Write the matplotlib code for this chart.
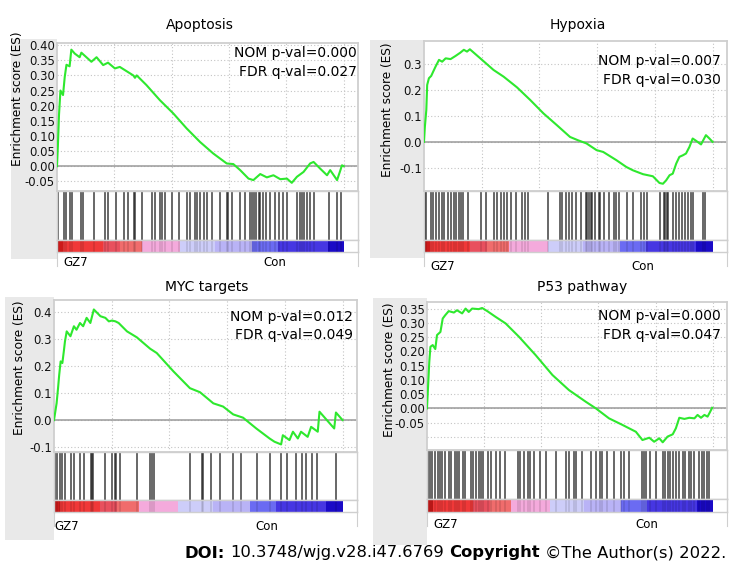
import matplotlib
matplotlib.use("Agg")
import matplotlib.pyplot as plt
from matplotlib.patches import Rectangle

W, H = 735, 562

titles = ["Apoptosis", "Hypoxia", "MYC targets", "P53 pathway"]
nom_p = ["0.000", "0.007", "0.012", "0.000"]
fdr_q = ["0.027", "0.030", "0.049", "0.047"]
left_label = "GZ7"
right_label = "Con"

# running enrichment score, x = position in the ranked gene list (%)
apop_x = [0, 0.3, 0.7, 1.2, 2.1, 2.7, 3.3, 4.4, 5.0, 6.2, 7.9, 8.5, 12.0, 13.8, 16.1, 17.8,
          20.2, 21.9, 26.6, 27.2, 27.8, 31.2, 35.9, 40.6, 45.2, 49.9, 54.5, 59.2, 61.5, 63.9,
          66.8, 68.5, 70.9, 73.2, 75.5, 77.9, 80.2, 81.9, 83.7, 86.0, 88.3, 89.5, 91.8, 94.2,
          95.3, 97.7, 98.8, 99.4, 100]
apop_es = [0, 0.065, 0.17, 0.25, 0.235, 0.295, 0.335, 0.33, 0.385, 0.372, 0.36, 0.375, 0.345,
           0.36, 0.334, 0.342, 0.323, 0.328, 0.30, 0.292, 0.30, 0.268, 0.218, 0.174, 0.125,
           0.08, 0.042, 0.009, 0.007, -0.013, -0.041, -0.046, -0.026, -0.037, -0.03, -0.043,
           -0.041, -0.055, -0.035, -0.019, 0.009, 0.014, -0.008, -0.03, -0.013, -0.046,
           -0.015, 0.003, 0.0]

hyp_x = [0, 0.3, 0.8, 1.1, 1.7, 2.5, 3.2, 4.0, 5.2, 6.3, 7.5, 9.2, 10.9, 12.6, 13.8, 14.9,
         15.9, 19.5, 24.1, 27.6, 32.2, 36.8, 41.4, 46.0, 50.6, 53.4, 56.3, 59.8, 62.1, 66.7,
         70.1, 72.4, 75.9, 79.3, 81.6, 82.8, 83.9, 85.1, 86.2, 87.4, 88.5, 89.7, 90.8, 92.0,
         93.1, 94.3, 96.0, 97.7, 98.9, 100]
hyp_es = [0, 0.058, 0.123, 0.22, 0.246, 0.255, 0.272, 0.291, 0.317, 0.31, 0.323, 0.32, 0.332,
          0.345, 0.356, 0.349, 0.358, 0.323, 0.278, 0.252, 0.211, 0.162, 0.11, 0.065, 0.019,
          0.006, -0.006, -0.032, -0.039, -0.071, -0.097, -0.11, -0.125, -0.133, -0.159,
          -0.162, -0.149, -0.129, -0.123, -0.084, -0.058, -0.052, -0.045, -0.019, 0.013,
          0.004, -0.01, 0.026, 0.013, 0.0]

myc_x = [0, 0.9, 1.4, 1.8, 2.3, 2.9, 3.4, 3.8, 4.4, 5.7, 6.9, 7.8, 9.0, 10.1, 11.3, 12.6,
         13.8, 16.1, 17.8, 19.0, 20.1, 21.3, 22.4, 25.3, 28.7, 33.3, 35.6, 41.4, 47.1, 50.6,
         55.2, 58.6, 62.1, 65.5, 70.1, 74.7, 76.4, 78.7, 79.3, 81.6, 82.8, 84.5, 85.6, 87.9,
         89.1, 91.4, 92.0, 97.1, 97.7, 100]
myc_es = [0, 0.062, 0.118, 0.167, 0.217, 0.211, 0.254, 0.291, 0.328, 0.31, 0.347, 0.334,
          0.359, 0.347, 0.378, 0.359, 0.409, 0.384, 0.378, 0.365, 0.368, 0.365, 0.359, 0.328,
          0.306, 0.264, 0.248, 0.18, 0.118, 0.103, 0.062, 0.05, 0.021, 0.009, -0.031, -0.068,
          -0.08, -0.09, -0.056, -0.074, -0.043, -0.068, -0.043, -0.062, -0.025, -0.043,
          0.031, -0.031, 0.028, 0.0]

p53_x = [0, 0.4, 0.8, 1.2, 2.0, 2.9, 3.5, 4.7, 5.5, 6.4, 7.6, 9.4, 10.5, 12.3, 13.5, 14.6,
         15.8, 18.1, 19.3, 21.1, 24.0, 27.5, 32.2, 38.0, 43.9, 49.7, 55.6, 59.1, 63.7, 68.4,
         73.1, 75.4, 77.8, 79.5, 81.3, 82.5, 84.2, 86.0, 87.1, 88.3, 90.1, 91.8, 93.6, 94.7,
         95.9, 97.1, 98.2, 99.1, 99.8]
p53_es = [0, 0.082, 0.163, 0.216, 0.222, 0.208, 0.257, 0.268, 0.315, 0.327, 0.341, 0.336,
          0.344, 0.333, 0.35, 0.338, 0.35, 0.348, 0.352, 0.341, 0.321, 0.298, 0.251, 0.187,
          0.117, 0.064, 0.023, 0.0, -0.035, -0.058, -0.082, -0.111, -0.103, -0.117, -0.105,
          -0.119, -0.099, -0.091, -0.07, -0.033, -0.037, -0.033, -0.035, -0.023, -0.033,
          -0.023, -0.029, -0.012, 0.002]

# gene set hits in the ranked list (%)
apop_hits = [0.5, 2.6, 3.0, 4.5, 5.1, 8.4, 8.9, 13.0, 16.8, 17.7, 20.5, 23.2, 24.9, 26.7,
             27.3, 29.8, 33.1, 34.3, 36.0, 36.8, 37.8, 40.1, 42.7, 45.3, 46.5, 48.0, 48.8,
             50.0, 51.2, 52.3, 54.1, 56.9, 59.2, 59.8, 61.0, 63.9, 65.6, 67.4, 67.9, 68.8,
             69.5, 70.3, 70.9, 72.0, 73.0, 74.4, 76.1, 77.6, 79.0, 80.2, 83.7, 84.6, 85.4,
             86.2, 87.2, 88.3, 89.5, 94.8, 97.7, 99.1]
hyp_hits = [0.2, 0.8, 2.3, 3.1, 4.3, 5.1, 6.2, 7.1, 8.3, 9.4, 10.3, 11.1, 12.0, 12.9, 13.4,
            15.4, 19.8, 21.5, 24.4, 25.3, 26.7, 27.6, 28.7, 30.1, 31.8, 34.1, 34.9, 36.1,
            43.0, 47.1, 47.9, 49.1, 50.2, 51.4, 52.5, 54.3, 56.0, 56.6, 57.1, 57.7, 58.3,
            59.4, 60.6, 61.1, 62.5, 64.0, 65.7, 66.7, 67.5, 70.3, 72.4, 75.2, 76.1, 77.2,
            81.8, 83.0, 83.6, 84.1, 84.7, 86.4, 87.4, 88.2, 89.3, 90.5, 91.6, 92.4, 93.3,
            96.8, 97.4]
myc_hits = [0.5, 1.2, 2.0, 2.8, 3.9, 5.8, 6.9, 8.9, 10.4, 12.7, 13.1, 13.5, 17.7, 20.0, 21.0,
            21.5, 23.0, 28.8, 33.1, 33.9, 34.8, 47.2, 51.2, 51.8, 54.4, 57.6, 62.2, 64.7,
            70.3, 74.9, 78.6, 80.6, 83.8, 86.1, 87.2, 89.5, 91.2, 97.6]
p53_hits = [0.3, 0.9, 1.9, 2.7, 3.8, 4.7, 5.4, 6.2, 7.7, 8.5, 9.7, 10.5, 11.2, 12.6, 13.2,
            15.5, 16.1, 17.2, 18.2, 19.0, 19.6, 21.3, 22.5, 24.2, 25.4, 27.2, 31.8, 32.6,
            34.1, 35.3, 36.1, 37.3, 39.4, 41.7, 45.0, 48.7, 49.7, 51.3, 52.2, 54.3, 57.5,
            59.2, 60.4, 61.3, 62.9, 65.3, 67.9, 68.8, 70.6, 75.3, 75.8, 76.7, 77.9, 80.2,
            82.5, 83.4, 84.3, 85.1, 86.2, 87.2, 88.1, 89.5, 90.4, 91.6, 92.4, 93.6, 95.3,
            96.3, 97.1, 97.9, 98.8]

# ranked list metric colour bar (%)
bar_edges = [0, 2, 16, 22, 29.5, 43, 55, 68, 77, 94.4, 100]
bar_colors = ["#cc1a1a", "#f03838", "#e8505e", "#f06c6c", "#f4aadc", "#cdcdf9", "#b9b3f6",
              "#6b6bf2", "#4636e2", "#1a0ac6"]

es_x = [apop_x, hyp_x, myc_x, p53_x]
es_y = [apop_es, hyp_es, myc_es, p53_es]
hits = [apop_hits, hyp_hits, myc_hits, p53_hits]

# panel layout in pixels
panels = [
    dict(l=57, r=358, t=43, es_b=191, hit_b=240, bar_b=252, strip=(11, 39, 259), lab_y=263,
         gz=63, con=263, ttl=(200, 25), ylab=(18, 99), stat=(357, 53, 72),
         ylim=(-0.082, 0.407), ticks=[-0.05, 0, 0.05, 0.10, 0.15, 0.20, 0.25, 0.30, 0.35, 0.40],
         fmt="{:.2f}"),
    dict(l=424, r=727, t=41, es_b=191, hit_b=240, bar_b=252, strip=(370, 40, 258), lab_y=267,
         gz=430, con=631, ttl=(578, 25), ylab=(388, 110), stat=(721, 61, 80),
         ylim=(-0.19, 0.39), ticks=[-0.1, 0, 0.1, 0.2, 0.3], fmt="{:.1f}"),
    dict(l=54, r=357, t=300, es_b=452, hit_b=500, bar_b=512, strip=(5, 297, 540), lab_y=526,
         gz=54, con=255, ttl=(207, 287), ylab=(20, 368), stat=(353, 317, 335),
         ylim=(-0.118, 0.444), ticks=[-0.1, 0, 0.1, 0.2, 0.3, 0.4], fmt="{:.1f}"),
    dict(l=427, r=727, t=302, es_b=450, hit_b=499, bar_b=512, strip=(373, 298, 545), lab_y=524,
         gz=433, con=635, ttl=(582, 287), ylab=(390, 370), stat=(721, 316, 335),
         ylim=(-0.146, 0.373), ticks=[-0.10, -0.05, 0, 0.05, 0.10, 0.15, 0.20, 0.25, 0.30, 0.35],
         fmt="{:.2f}"),
]

fig = plt.figure(figsize=(W / 100, H / 100), dpi=100)
fig.patch.set_facecolor("white")


def box(l, t, r, b):
    return [l / W, 1 - b / H, (r - l) / W, (b - t) / H]


def fx(x):
    return x / W


def fy(y):
    return 1 - y / H


frame = "#cfcfcf"
for i, p in enumerate(panels):
    sl, st, sb = p["strip"]
    fig.add_artist(Rectangle((fx(sl), fy(sb)), (p["l"] - sl) / W, (sb - st) / H,
                             transform=fig.transFigure, color="#e9e9e9", zorder=0, lw=0))

    # running ES
    ax = fig.add_axes(box(p["l"], p["t"], p["r"], p["es_b"]))
    ax.set_xlim(0, 105)
    ax.set_ylim(*p["ylim"])
    ax.set_xticks([20, 40, 60, 80, 100])
    ax.set_yticks(p["ticks"])
    labels = [p["fmt"].format(v) for v in p["ticks"]]
    if i == 3:
        labels[0] = ""
    ax.set_yticklabels(labels)
    ax.tick_params(length=0, pad=1.5, labelsize=8.4, labelbottom=False, colors="#111111")
    ax.grid(True, ls=(0, (1, 2)), color="#c4c4c4", lw=0.8)
    ax.axhline(0, color="#9a9a9a", lw=1.1, zorder=2)
    ax.plot(es_x[i], es_y[i], color="#2ee82e", lw=1.5, zorder=3)
    for s in ax.spines.values():
        s.set_color(frame)
        s.set_linewidth(1.3)

    # hits
    hx = fig.add_axes(box(p["l"], p["es_b"], p["r"], p["hit_b"]))
    hx.vlines(hits[i], 0, 1, color="#1c1c1c", lw=1.2, alpha=0.78)
    hx.set_xlim(0, 105)
    hx.set_ylim(0, 1)
    hx.set_xticks([])
    hx.set_yticks([])
    for s in hx.spines.values():
        s.set_color(frame)
        s.set_linewidth(1.0)

    # colour bar
    cx = fig.add_axes(box(p["l"], p["hit_b"], p["r"], p["bar_b"]))
    widths = [bar_edges[k + 1] - bar_edges[k] for k in range(len(bar_colors))]
    cx.barh(0.5, widths, left=bar_edges[:-1], height=1, color=bar_colors, lw=0)
    cx.vlines(hits[i], 0, 1, color="#000000", lw=1.2, alpha=0.12)
    cx.set_xlim(0, 105)
    cx.set_ylim(0, 1)
    cx.set_xticks([])
    cx.set_yticks([])
    for s in cx.spines.values():
        s.set_color(frame)
        s.set_linewidth(1.0)

    # lower label strip
    lx = fig.add_axes(box(p["l"], p["bar_b"], p["r"], p["bar_b"] + 14))
    lx.set_xticks([])
    lx.set_yticks([])
    lx.patch.set_alpha(0)
    for k in ["top", "bottom"]:
        lx.spines[k].set_visible(False)
    for k in ["left", "right"]:
        lx.spines[k].set_color(frame)

    fig.text(fx(p["gz"]), fy(p["lab_y"]), left_label, fontsize=8.5, ha="left", va="center")
    fig.text(fx(p["con"]), fy(p["lab_y"]), right_label, fontsize=8.5, ha="left", va="center")

    fig.text(fx(p["ttl"][0]), fy(p["ttl"][1]), titles[i], fontsize=10, ha="center", va="center")
    fig.text(fx(p["ylab"][0]), fy(p["ylab"][1]), "Enrichment score (ES)", fontsize=8.7,
             rotation=90, ha="center", va="center")
    sx, sy1, sy2 = p["stat"]
    fig.text(fx(sx), fy(sy1), "NOM p-val=" + nom_p[i], fontsize=10, ha="right", va="center")
    fig.text(fx(sx), fy(sy2), "FDR q-val=" + fdr_q[i], fontsize=10, ha="right", va="center")

# footer with bold pieces
parts = [("DOI:", "bold"), ("10.3748/wjg.v28.i47.6769", "normal"), ("Copyright", "bold"),
         ("©The Author(s) 2022.", "normal")]
renderer = fig.canvas.get_renderer()
x = 184
gap = 5.5
for txt, wt in parts:
    t = fig.text(fx(x), fy(553), txt, fontsize=11.8, fontweight=wt, ha="left", va="center")
    bb = t.get_window_extent(renderer=renderer)
    x += bb.width + gap

fig.savefig("out.png", dpi=100)
